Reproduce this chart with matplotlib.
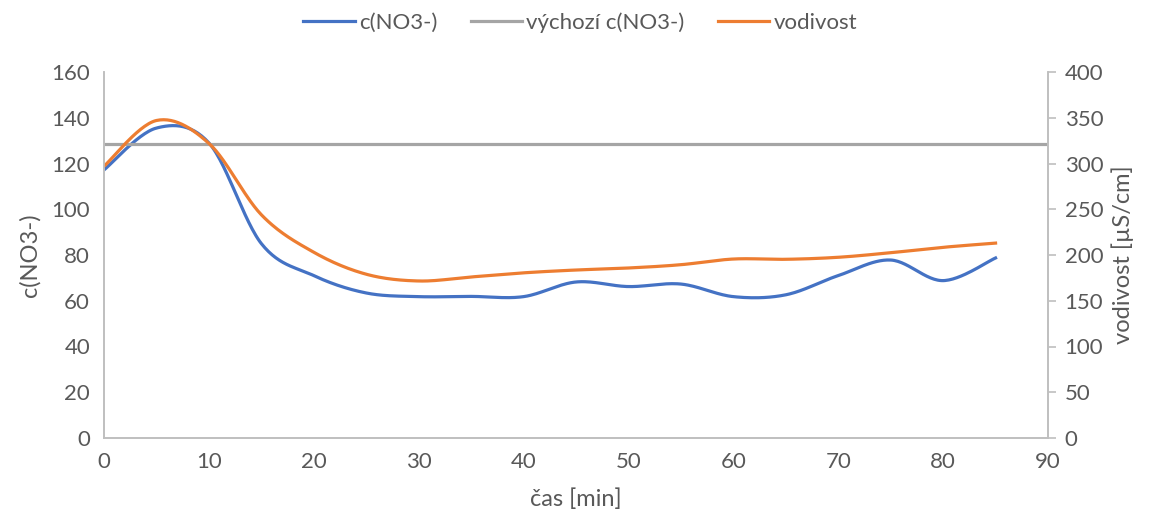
import matplotlib
matplotlib.use("Agg")
import matplotlib.pyplot as plt
import numpy as np

# measured data (every 5 min)
cas = [0, 5, 10, 15, 20, 25, 30, 35, 40, 45, 50, 55, 60, 65, 70, 75, 80, 85]
c_no3 = [117.2, 135.5, 129, 85, 71, 63.4, 61.8, 61.9, 61.8, 68.2, 66.2, 67.3,
         61.8, 62.6, 71, 77.8, 68.8, 78.7]
vodivost = [297, 347, 322, 244, 203, 179, 171.6, 176, 180.5, 183.6, 185.8, 189.4,
            195.6, 195.3, 197.5, 202.5, 208.4, 213]
cas_vychozi = [0, 90]
c_vychozi = [128.5, 128.5]

BLUE = "#4472C4"
ORANGE = "#ED7D31"
GRAY = "#A5A5A5"
TXT = "#595959"
AX = "#BFBFBF"


def smooth(x, y, n=30):
    '''
    Catmull-Rom spline through the points (like Excel smoothed line)
    '''
    x = np.asarray(x, float)
    y = np.asarray(y, float)
    px = np.concatenate([[x[0]], x, [x[-1]]])
    py = np.concatenate([[y[0]], y, [y[-1]]])
    xs, ys = [], []
    t = np.linspace(0, 1, n)
    for i in range(1, len(px) - 2):
        for arr, out in ((px, xs), (py, ys)):
            p0, p1, p2, p3 = arr[i - 1], arr[i], arr[i + 1], arr[i + 2]
            b1 = p1 + (p2 - p0) / 6
            b2 = p2 - (p3 - p1) / 6
            out.extend((1 - t) ** 3 * p1 + 3 * (1 - t) ** 2 * t * b1
                       + 3 * (1 - t) * t ** 2 * b2 + t ** 3 * p2)
    return xs, ys


plt.rcParams['font.family'] = ['Lato', 'DejaVu Sans']
FS = 16

fig = plt.figure(figsize=(11.49, 5.24), dpi=100)
ax = fig.add_axes([104 / 1149, 1 - 438 / 524, (1048 - 104) / 1149, 366 / 524])
ax2 = ax.twinx()

l1, = ax.plot(*smooth(cas, c_no3), color=BLUE, lw=2.3, label="c(NO3-)")
l2, = ax.plot(cas_vychozi, c_vychozi, color=GRAY, lw=2.3, label="výchozí c(NO3-)")
l3, = ax2.plot(*smooth(cas, vodivost), color=ORANGE, lw=2.3, label="vodivost")

ax.set_xlim(0, 90)
ax.set_ylim(0, 160)
ax2.set_ylim(0, 400)
ax.set_xticks(np.arange(0, 91, 10))
ax.set_yticks(np.arange(0, 161, 20))
ax2.set_yticks(np.arange(0, 401, 50))

for a in (ax, ax2):
    a.spines['top'].set_visible(False)
    for s in ('left', 'right', 'bottom'):
        a.spines[s].set_color(AX)
        a.spines[s].set_linewidth(1.2)
    a.tick_params(labelsize=FS, colors=TXT)
ax.tick_params(axis='both', length=0, pad=10)
ax2.tick_params(axis='y', length=6, width=1.2, color=AX, pad=6)

ax.set_xlabel("čas [min]", fontsize=FS + 1, color=TXT, labelpad=12)
ax.set_ylabel("c(NO3-)", fontsize=FS + 1, color=TXT, labelpad=8)
ax2.set_ylabel("vodivost [µS/cm]", fontsize=FS + 1, color=TXT, labelpad=6)

fig.legend(handles=[l1, l2, l3], loc='upper center', bbox_to_anchor=(0.505, 1.015),
           ncol=3, frameon=False, fontsize=FS, labelcolor=TXT,
           handlelength=2.3, handletextpad=0.2, columnspacing=1.5)

fig.savefig("out.png", dpi=100)
